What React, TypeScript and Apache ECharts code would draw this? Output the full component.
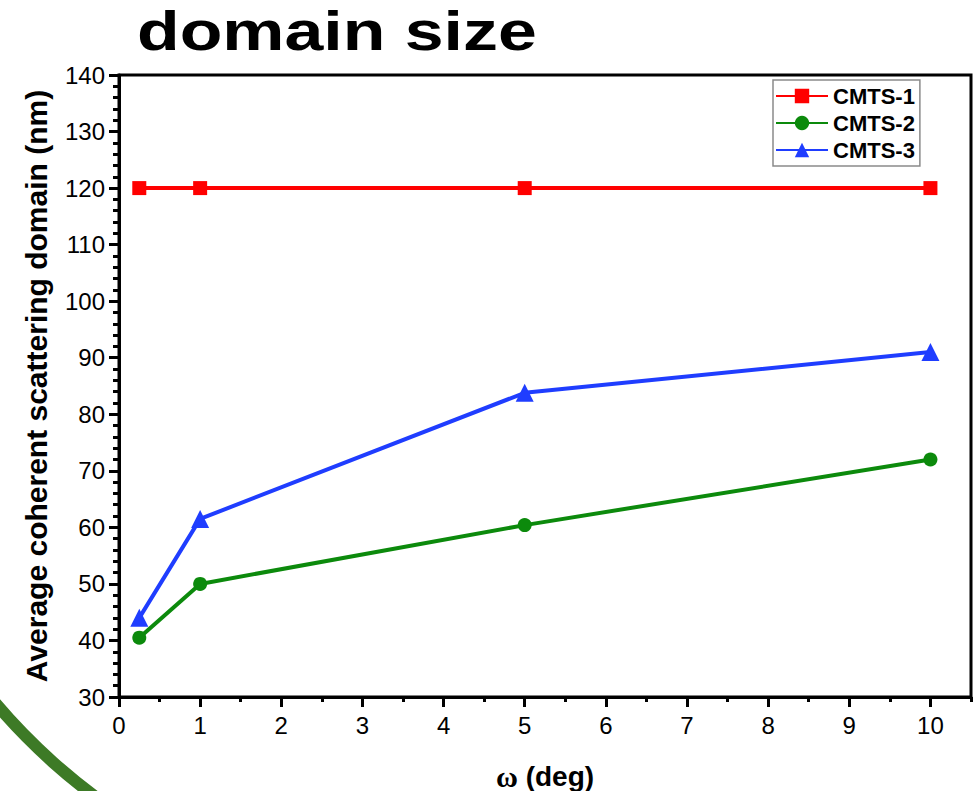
import React, { useEffect, useRef } from "react";
import * as echarts from "echarts";

const omega = [0.25, 1, 5, 10];
const cmts1 = [120, 120, 120, 120];
const cmts2 = [40.5, 50, 60.4, 72];
const cmts3 = [44, 61.5, 83.8, 91];
const seriesNames = ["CMTS-1", "CMTS-2", "CMTS-3"];
const xMajorTicks = [0, 1, 2, 3, 4, 5, 6, 7, 8, 9, 10];
const xMinorTicks = [0.5, 1.5, 2.5, 3.5, 4.5, 5.5, 6.5, 7.5, 8.5, 9.5, 10.5];

const FONT = '"Liberation Sans", Arial, Helvetica, sans-serif';

export default function App() {
  const ref = useRef<HTMLDivElement>(null);
  useEffect(() => {
    if (!ref.current) return;
    const chart = echarts.init(ref.current, null, { renderer: "svg" });
    const pair = (ys: number[]) => omega.map((x, i) => [x, ys[i]]);
    const colors = ["#ff0000", "#0c8a0c", "#1f3dff"];
    const symbols = ["rect", "circle", "triangle"];
    const sizes = [14, 14, 18];
    const datasets = [cmts1, cmts2, cmts3];
    chart.setOption({
      animation: false,
      backgroundColor: "#ffffff",
      textStyle: { fontFamily: FONT },
      grid: [
        { left: 119, right: 2, top: 75, bottom: 94, show: true, borderColor: "#000", borderWidth: 3, backgroundColor: "transparent", outerBoundsMode: "none", containLabel: false },
        { left: 119, right: 2, top: 75, bottom: 94, show: false, outerBoundsMode: "none", containLabel: false },
      ],
      xAxis: [
        {
          type: "value",
          gridIndex: 0,
          min: 0,
          max: 10.5,
          interval: 1,
          name: "{w|ω} (deg)",
          nameLocation: "middle",
          nameGap: 64,
          nameTextStyle: {
            fontFamily: FONT,
            fontWeight: "bold",
            fontSize: 28,
            color: "#000",
            rich: { w: { fontFamily: '"Liberation Serif", "Times New Roman", serif', fontWeight: "bold", fontSize: 30, color: "#000" } },
          },
          axisLine: { show: true, onZero: false, lineStyle: { color: "#000", width: 3 } },
          axisTick: { show: true, inside: false, length: 10, lineStyle: { color: "#000", width: 3 }, customValues: xMajorTicks },
          axisLabel: { show: true, margin: 16, fontSize: 24, color: "#000", fontFamily: FONT, customValues: xMajorTicks },
          splitLine: { show: false },
          minorTick: { show: false },
        },
        {
          type: "value",
          gridIndex: 1,
          min: 0,
          max: 10.5,
          interval: 0.5,
          axisLine: { show: false },
          axisTick: { show: true, inside: false, length: 5, lineStyle: { color: "#000", width: 3 }, customValues: xMinorTicks },
          axisLabel: { show: false },
          splitLine: { show: false },
        },
      ],
      yAxis: [
        {
          type: "value",
          gridIndex: 0,
          min: 30,
          max: 140,
          interval: 10,
          name: "Average coherent scattering domain (nm)",
          nameLocation: "middle",
          nameGap: 68,
          nameTextStyle: { fontFamily: FONT, fontWeight: "bold", fontSize: 30, color: "#000" },
          axisLine: { show: true, onZero: false, lineStyle: { color: "#000", width: 3 } },
          axisTick: { show: true, inside: false, length: 10, lineStyle: { color: "#000", width: 3 } },
          minorTick: { show: true, splitNumber: 5, length: 6, lineStyle: { color: "#000", width: 3 } },
          axisLabel: { show: true, margin: 14, fontSize: 24, color: "#000", fontFamily: FONT },
          splitLine: { show: false },
          minorSplitLine: { show: false },
        },
        {
          type: "value",
          gridIndex: 1,
          min: 0,
          max: 1,
          show: false,
        },
      ],
      legend: {
        show: true,
        orient: "vertical",
        left: 773,
        top: 80,
        padding: [5, 5, 5, 2],
        itemGap: 5,
        itemWidth: 52,
        itemHeight: 18,
        borderColor: "#8a8a8a",
        borderWidth: 1.5,
        backgroundColor: "#fff",
        textStyle: { fontFamily: FONT, fontWeight: "bold", fontSize: 22, color: "#000" },
        data: seriesNames,
      },
      graphic: [
        {
          type: "arc",
          z: 0,
          shape: { cx: 453, cy: 315, r: 600, startAngle: 2.0, endAngle: 2.6 },
          style: { stroke: "#3d7a26", lineWidth: 12, fill: "none" },
        },
        {
          type: "text",
          x: 137,
          y: 31,
          scaleX: 1.27,
          style: {
            text: "domain size",
            font: 'bold 55px "Liberation Sans", Arial, sans-serif',
            fill: "#000",
            textAlign: "left",
            textVerticalAlign: "middle",
          },
        },
      ],
      series: datasets.map((ys, i) => ({
        name: seriesNames[i],
        type: "line",
        xAxisIndex: 0,
        yAxisIndex: 0,
        data: pair(ys),
        symbol: symbols[i],
        symbolSize: sizes[i],
        showSymbol: true,
        lineStyle: { color: colors[i], width: 4 },
        itemStyle: { color: colors[i] },
        z: 3 + i,
      })),
    });
    return () => chart.dispose();
  }, []);
  return (
    <div
      ref={ref}
      style={{ position: "absolute", left: 0, top: 0, width: 973, height: 791 }}
    />
  );
}
